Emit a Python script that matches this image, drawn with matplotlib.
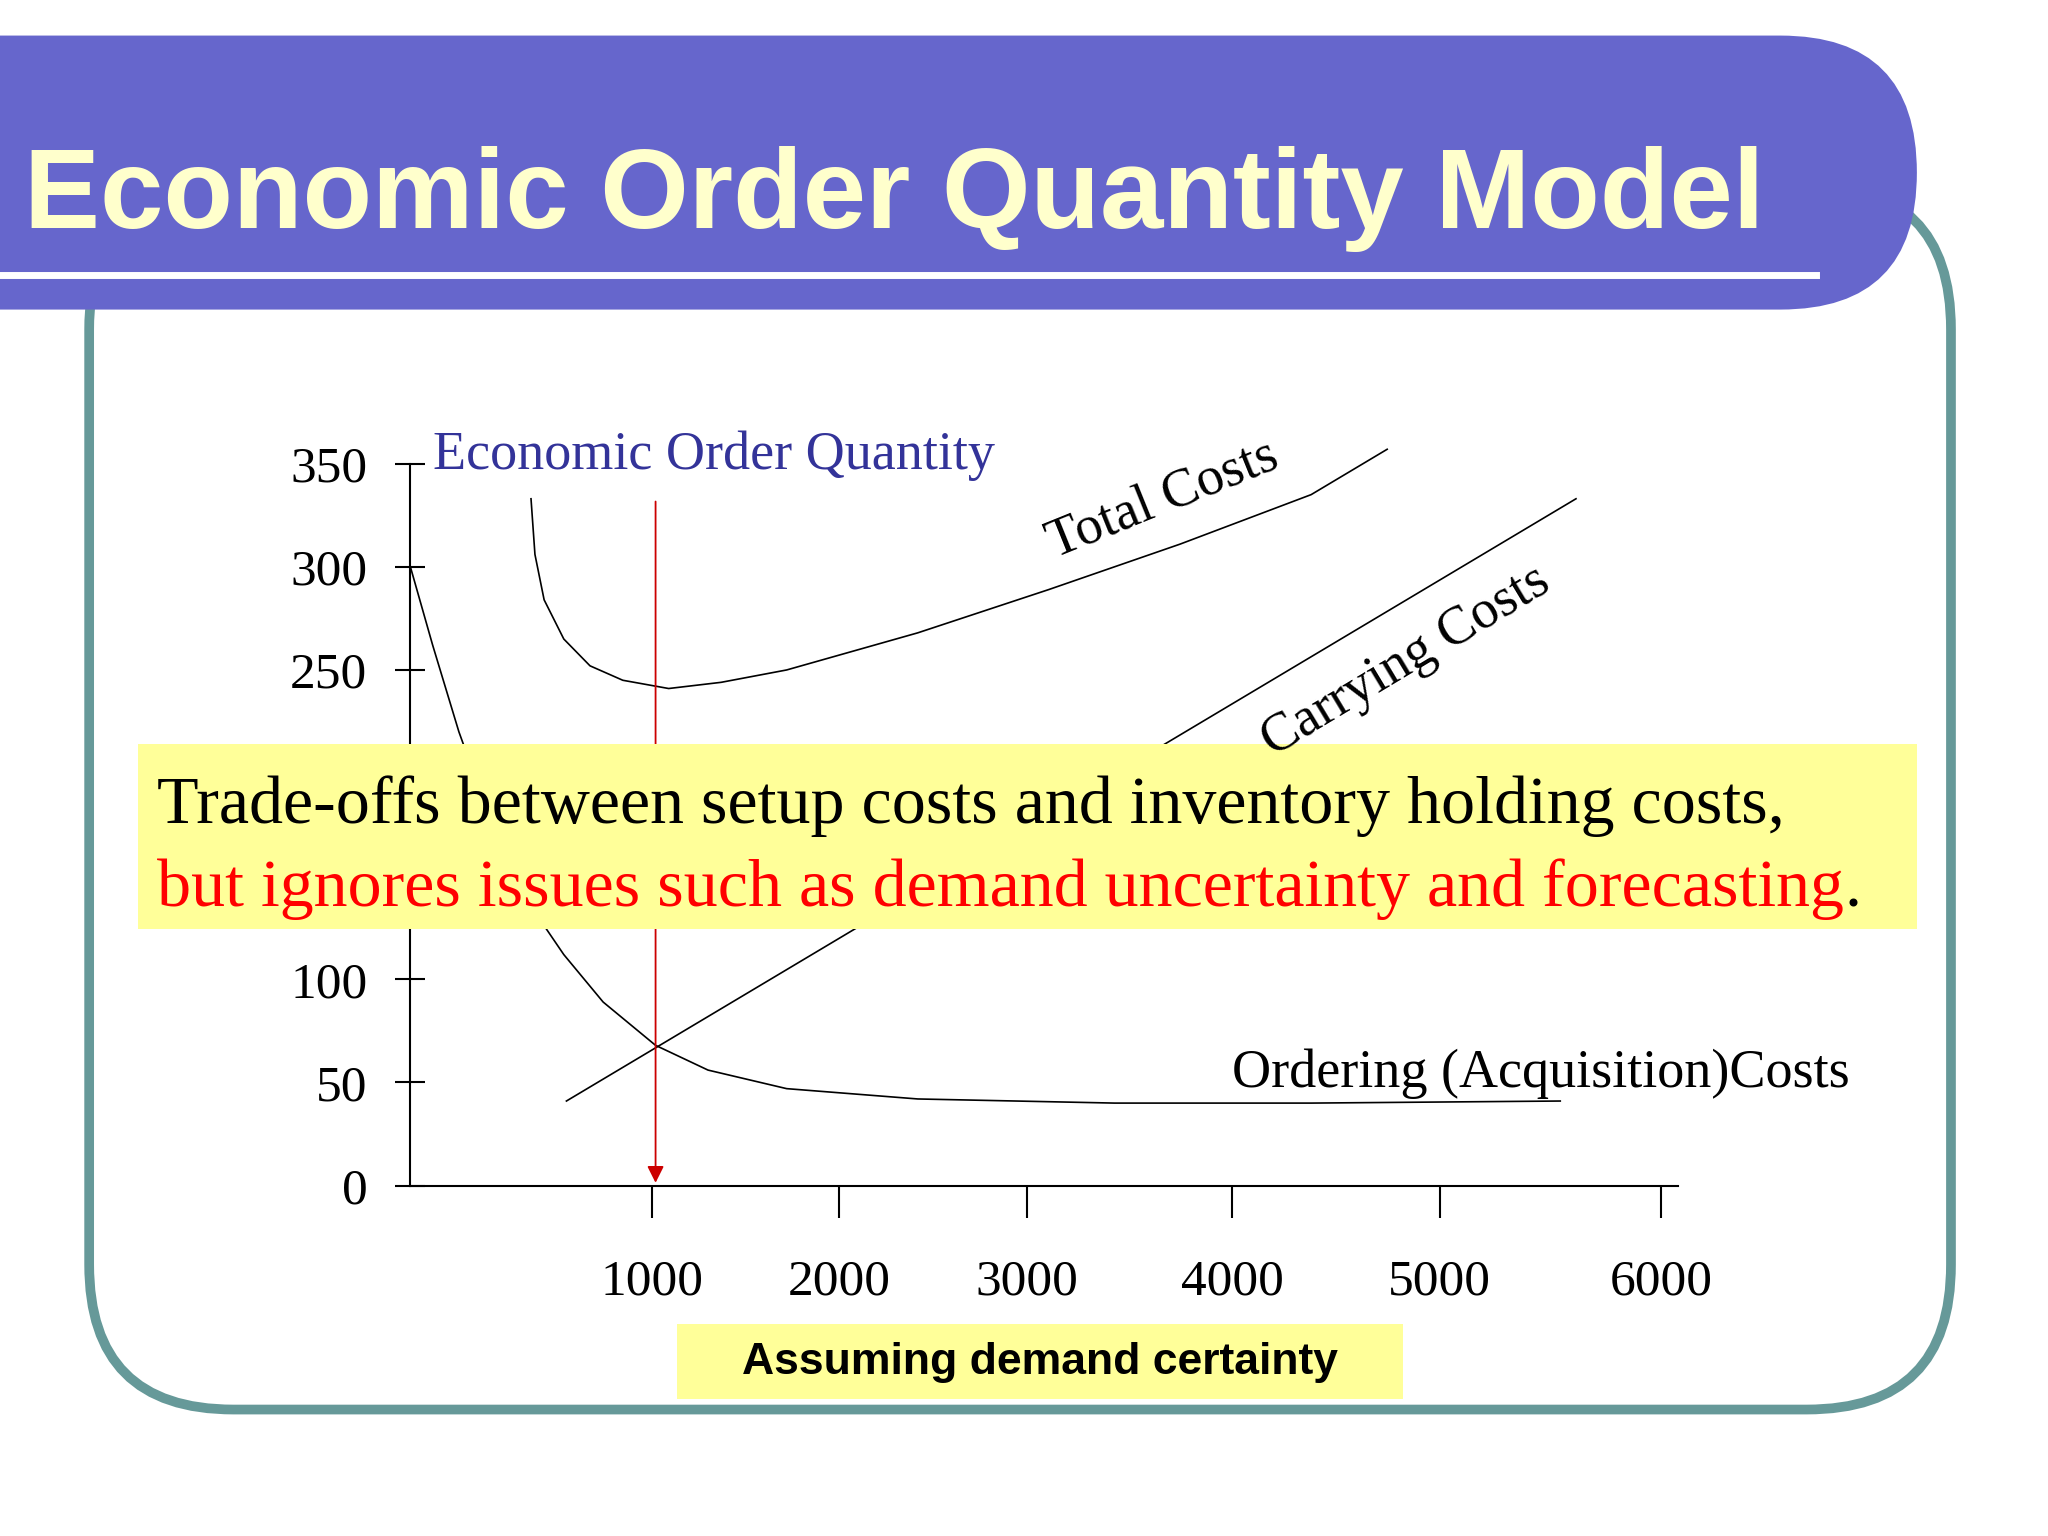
import matplotlib.pyplot as plt
from matplotlib.patches import FancyBboxPatch, Rectangle

# chart values (x in chart units where ticks sit unevenly, as in the slide)
x_tick_pos = [184, 327, 470, 627, 785, 954]
x_tick_labels = ["1000", "2000", "3000", "4000", "5000", "6000"]
y_ticks = [0, 50, 100, 150, 200, 250, 300, 350]
y_tick_labels = ["0", "50", "100", "150", "200", "250", "300", "350"]

total_x = [92, 95, 102, 117, 137, 162, 197, 237, 287, 387, 487, 587, 687, 745]
total_y = [333, 306, 284, 265, 252, 245, 241, 244, 250, 268, 289, 311, 335, 357]
carry_x = [119, 889]
carry_y = [41, 333]
order_x = [0, 17, 37, 62, 87, 117, 147, 187, 227, 287, 387, 537, 687, 877]
order_y = [300, 262, 220, 176, 140, 112, 89, 68, 56, 47, 42, 40, 40, 41]
eoq_x = 187

SERIF = "Liberation Serif"

fig = plt.figure(figsize=(20.48, 15.36), dpi=100)
W, H = 1562, 1166


def overlay(z):
    a = fig.add_axes([0, 0, 1, 1], zorder=z)
    a.set_xlim(0, W)
    a.set_ylim(H, 0)
    a.axis("off")
    a.patch.set_alpha(0)
    return a


bg = overlay(0)
bg.add_patch(FancyBboxPatch((68, 140), 1420, 930, boxstyle="round,pad=0,rounding_size=110",
                            fc="white", ec="#669999", lw=7))
bg.add_patch(FancyBboxPatch((-200, 27), 1662, 208, boxstyle="round,pad=0,rounding_size=104",
                            fc="#6666CC", ec="none"))
bg.plot([0, 1385], [209, 209], color="white", lw=5)
bg.text(18, 173, "Economic Order Quantity Model", color="#FFFFCC", fontsize=82,
        fontweight="bold", family="Liberation Sans", va="baseline")

# chart axes
x0, y0, x1, y1 = 313, 900, 1280, 352
ax = fig.add_axes([x0 / W, 1 - y0 / H, (x1 - x0) / W, (y0 - y1) / H], zorder=1)
ax.set_xlim(0, x1 - x0)
ax.set_ylim(0, 350)
ax.patch.set_alpha(0)
for s in ["top", "right"]:
    ax.spines[s].set_visible(False)
ax.spines["left"].set_linewidth(1.5)
ax.spines["bottom"].set_linewidth(1.5)
ax.set_xticks(x_tick_pos, x_tick_labels)
ax.set_yticks(y_ticks, y_tick_labels)
ax.tick_params(axis="x", direction="out", length=23, width=1.5, pad=30, labelsize=37)
ax.tick_params(axis="y", direction="inout", length=22, width=1.5, pad=20, labelsize=37)
for lab in ax.get_xticklabels() + ax.get_yticklabels():
    lab.set_family(SERIF)

ax.plot(total_x, total_y, color="black", lw=1.2, clip_on=False)
ax.plot(carry_x, carry_y, color="black", lw=1.2, clip_on=False)
ax.plot(order_x, order_y, color="black", lw=1.2, clip_on=False)
ax.annotate("", xy=(eoq_x, 0), xytext=(eoq_x, 333),
            arrowprops=dict(arrowstyle="-|>", color="#CC0000", lw=1.3, mutation_scale=25))

# labels and overlay boxes
top = overlay(2)
top.text(330, 356, "Economic Order Quantity", color="#333399", fontsize=39, family=SERIF,
         va="baseline")
top.text(887, 380, "Total Costs", fontsize=39, family=SERIF, rotation=22,
         ha="center", va="center")
top.text(1072, 502, "Carrying Costs", fontsize=39, family=SERIF, rotation=31,
         ha="center", va="center")
top.text(940, 825, "Ordering (Acquisition)Costs", fontsize=39, family=SERIF, va="baseline")

top.add_patch(Rectangle((105, 565), 1357, 140, fc="#FFFF99", ec="none"))
top.text(120, 625, "Trade-offs between setup costs and inventory holding costs,",
         fontsize=49, family=SERIF, va="baseline")
t = top.text(120, 688, "but ignores issues such as demand uncertainty and forecasting",
             fontsize=49, family=SERIF, va="baseline", color="#FF0000")
top.annotate(".", xycoords=t, xy=(1, 0), va="bottom", fontsize=49, family=SERIF)

top.add_patch(Rectangle((516, 1005), 554, 57, fc="#FFFF99", ec="none"))
top.text(793, 1034, "Assuming demand certainty", fontsize=32, fontweight="bold",
         family="Liberation Sans", ha="center", va="center")

fig.savefig("out.png", dpi=100)
